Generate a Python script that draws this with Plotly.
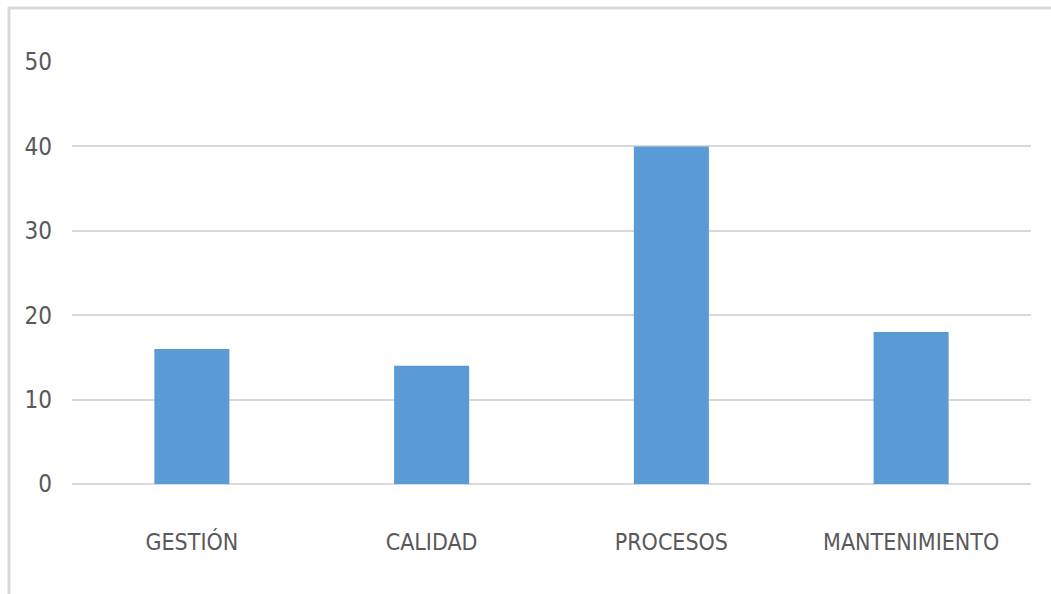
import plotly.graph_objects as go

categories = ["GESTIÓN", "CALIDAD", "PROCESOS", "MANTENIMIENTO"]
values = [16, 14, 40, 18]
y_ticks = [0, 10, 20, 30, 40, 50]

FONT = "DejaVu Sans Condensed, Liberation Sans Narrow, sans-serif"

fig = go.Figure(go.Bar(x=categories, y=values, marker=dict(color="#5b9bd5", line=dict(width=0))))

fig.update_layout(
    width=1051, height=594,
    margin=dict(l=72, r=20, t=62, b=110),
    paper_bgcolor="white", plot_bgcolor="white",
    bargap=0.687,
    showlegend=False,
    font=dict(family=FONT, color="#595959"),
    xaxis=dict(
        showgrid=False, showline=False, zeroline=False, ticks="",
        tickfont=dict(family=FONT, size=23, color="#595959"),
        ticklabelstandoff=42,
    ),
    yaxis=dict(
        range=[0, 50], tickvals=y_ticks, showgrid=True, gridcolor="#d9d9d9", gridwidth=1.5,
        zeroline=True, zerolinecolor="#d9d9d9", zerolinewidth=1.5, showline=False, ticks="",
        tickfont=dict(family=FONT, size=24, color="#595959"),
        ticklabelstandoff=19,
    ),
    shapes=[
        dict(type="line", xref="paper", yref="paper", x0=-64/959, x1=1.03, y0=1 + 54/422, y1=1 + 54/422,
             line=dict(color="#d9d9d9", width=3)),
        dict(type="line", xref="paper", yref="paper", x0=-63/959, x1=-63/959, y0=-0.3, y1=1 + 55/422,
             line=dict(color="#d9d9d9", width=3)),
    ],
)

fig.write_html("out.html")
